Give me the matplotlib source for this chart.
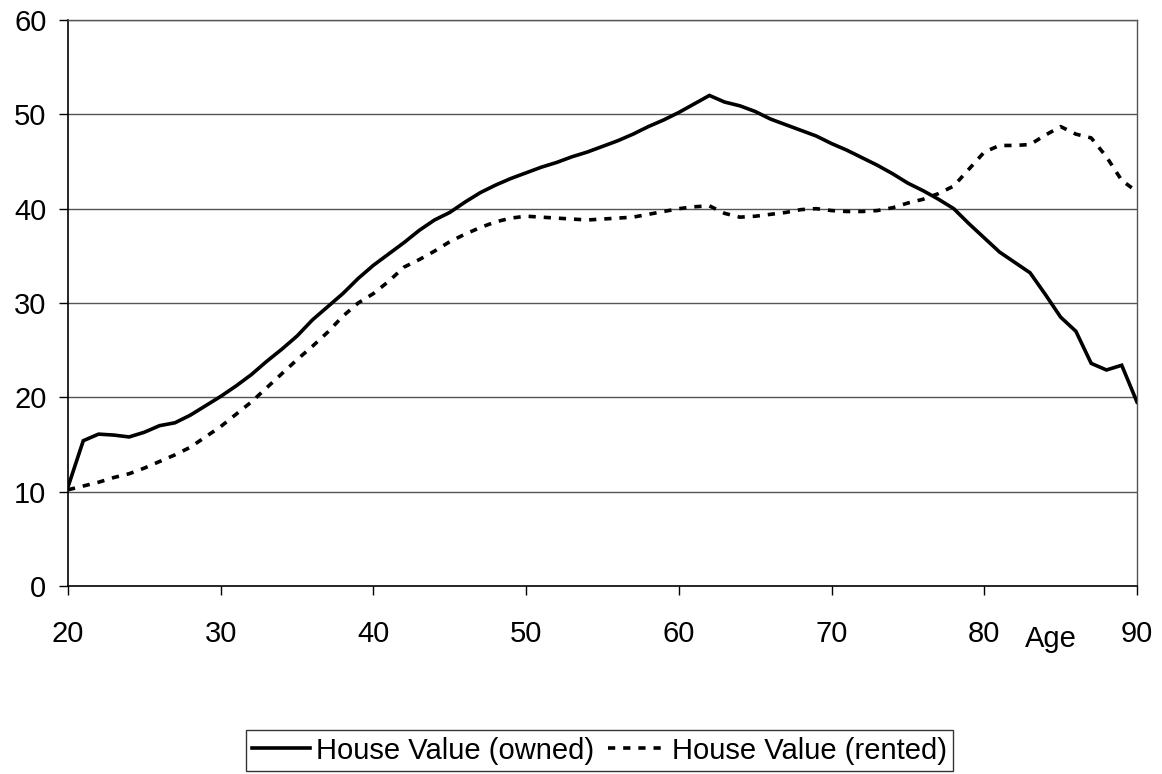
import matplotlib

matplotlib.use("Agg")
import matplotlib.pyplot as plt

ages = list(range(20, 91))

owned = [
    10.5, 15.4, 16.1, 16.0, 15.8, 16.3, 17.0, 17.3, 18.1, 19.1,
    20.1, 21.2, 22.4, 23.8, 25.1, 26.5, 28.2, 29.6, 31.0, 32.6,
    34.0, 35.2, 36.4, 37.7, 38.8, 39.6, 40.7, 41.7, 42.5, 43.2,
    43.8, 44.4, 44.9, 45.5, 46.0, 46.6, 47.2, 47.9, 48.7, 49.4,
    50.2, 51.1, 52.0, 51.3, 50.9, 50.3, 49.5, 48.9, 48.3, 47.7,
    46.9, 46.2, 45.4, 44.6, 43.7, 42.7, 41.9, 41.0, 40.0, 38.4,
    36.9, 35.4, 34.3, 33.2, 30.9, 28.5, 27.0, 23.6, 22.9, 23.4,
    19.5,
]

rented = [
    10.2, 10.6, 11.0, 11.5, 11.9, 12.5, 13.2, 13.9, 14.7, 15.8,
    16.9, 18.2, 19.5, 21.0, 22.5, 24.0, 25.4, 26.9, 28.6, 30.0,
    31.0, 32.3, 33.8, 34.6, 35.5, 36.5, 37.3, 38.0, 38.6, 39.0,
    39.2, 39.1, 39.0, 38.9, 38.8, 38.9, 39.0, 39.1, 39.4, 39.7,
    40.0, 40.2, 40.3, 39.5, 39.1, 39.2, 39.4, 39.6, 39.9, 40.0,
    39.8, 39.7, 39.7, 39.8, 40.1, 40.6, 41.0, 41.6, 42.4, 44.2,
    46.0, 46.7, 46.7, 46.8, 47.8, 48.7, 47.9, 47.5, 45.5, 43.0,
    41.8,
]

x_ticks = [20, 30, 40, 50, 60, 70, 80, 90]
y_ticks = [0, 10, 20, 30, 40, 50, 60]

plt.rcParams["font.family"] = ["Liberation Sans", "DejaVu Sans"]

fig = plt.figure(figsize=(11.62, 7.74), dpi=100)
ax = fig.add_axes([68 / 1162, 1 - 586 / 774, (1137 - 68) / 1162, (586 - 20) / 774])

for y in y_ticks[1:]:
    ax.axhline(y, color="#555555", linewidth=1.0, zorder=1)

ax.plot(ages, owned, color="black", linewidth=2.6, solid_joinstyle="miter",
        label="House Value (owned)", zorder=3)
ax.plot(ages, rented, color="black", linewidth=2.6, dashes=(2.0, 2.2),
        label="House Value (rented)", zorder=3)

ax.set_xlim(20, 90)
ax.set_ylim(0, 60)
ax.set_xticks(x_ticks)
ax.set_yticks(y_ticks)
ax.tick_params(axis="both", direction="out", length=6.5, width=1, labelsize=21,
               color="black")
ax.tick_params(axis="x", pad=18)
ax.tick_params(axis="y", pad=9)

for side in ("left", "bottom"):
    ax.spines[side].set_color("black")
    ax.spines[side].set_linewidth(1.2)
ax.spines["top"].set_color("#555555")
ax.spines["right"].set_color("#555555")
ax.spines["top"].set_linewidth(1.0)
ax.spines["right"].set_linewidth(1.0)

ax.text(84.37, -0.108, "Age", transform=ax.get_xaxis_transform(),
        ha="center", va="baseline", fontsize=21)

leg = fig.legend(loc="lower center", bbox_to_anchor=(0.516, 0.0), ncol=2,
                 fontsize=21, frameon=True, fancybox=False, handlelength=2.0,
                 handletextpad=0.18, columnspacing=0.5, borderpad=0.22,
                 borderaxespad=0.1, edgecolor="black")
leg.get_frame().set_linewidth(1.0)

fig.savefig("out.png", dpi=100, facecolor="white")
